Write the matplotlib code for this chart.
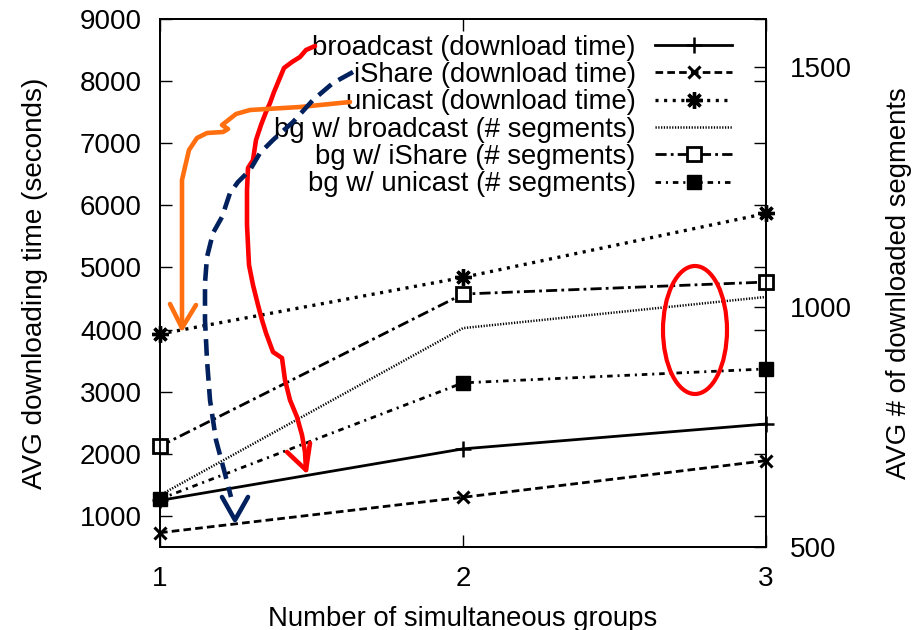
import matplotlib
matplotlib.use('Agg')
import matplotlib.pyplot as plt
from matplotlib.lines import Line2D
from matplotlib.patches import Ellipse

plt.rcParams['font.family'] = ['Liberation Sans', 'DejaVu Sans']
plt.rcParams['lines.scale_dashes'] = False

groups = [1, 2, 3]
# avg download time in seconds (left axis)
broadcast_time = [1250, 2080, 2480]
ishare_time = [730, 1300, 1890]
unicast_time = [3930, 4840, 5870]
# avg downloaded segments of background users (right axis)
bg_broadcast_segs = [608, 956, 1021]
bg_ishare_segs = [710, 1027, 1052]
bg_unicast_segs = [600, 842, 871]

left_ticks = [1000, 2000, 3000, 4000, 5000, 6000, 7000, 8000, 9000]
right_ticks = [500, 1000, 1500]

W, H = 916, 630
fig = plt.figure(figsize=(W / 100, H / 100), dpi=100)
ax = fig.add_axes([160 / W, 1 - 547 / H, 606 / W, 528 / H])
ax2 = ax.twinx()

lw = 2.0
h1, = ax.plot(groups, broadcast_time, color='black', lw=lw, ls='-',
              marker='+', ms=11, mew=1.8, clip_on=False)
h2, = ax.plot(groups, ishare_time, color='black', lw=lw, ls=(0, (5.5, 3)),
              marker='x', ms=9, mew=2.2, clip_on=False)
h3, = ax.plot(groups, unicast_time, color='black', lw=2.4, ls=(0, (2.2, 4)),
              marker=(8, 2, 0), ms=12, mew=2.4, clip_on=False)
h4, = ax2.plot(groups, bg_broadcast_segs, color='black', lw=1.8, ls=(0, (0.9, 1.1)),
               clip_on=False)
h5, = ax2.plot(groups, bg_ishare_segs, color='black', lw=lw, ls=(0, (8, 3, 2, 3)),
               marker='s', ms=10, mew=2, mfc='white', clip_on=False)
h6, = ax2.plot(groups, bg_unicast_segs, color='black', lw=lw, ls=(0, (4, 3.5, 1.5, 3.5)),
               marker='s', ms=10, mew=1, mfc='black', clip_on=False)

ax.set_xlim(1, 3)
ax.set_ylim(500, 9000)
ax2.set_ylim(500, 1600)
ax.set_xticks(groups)
ax.set_yticks(left_ticks)
ax2.set_yticks(right_ticks)

ax.tick_params(direction='in', length=8.5, width=1, labelsize=20, pad=13,
               top=True, right=True)
ax.tick_params(axis='x', pad=14)
ax2.tick_params(direction='in', length=8.5, width=1, labelsize=20, pad=17)
for a in (ax, ax2):
    for s in a.spines.values():
        s.set_linewidth(1.3)

ax.set_xlabel('Number of simultaneous groups', fontsize=19.8, labelpad=9.5)
ax.set_ylabel('AVG downloading time (seconds)', fontsize=20.1, labelpad=23)
ax2.set_ylabel('AVG # of downloaded segments', fontsize=19.8, labelpad=25)

labels = ['broadcast (download time)', 'iShare (download time)',
          'unicast (download time)', 'bg w/ broadcast (# segments)',
          'bg w/ iShare (# segments)', 'bg w/ unicast (# segments)']
leg = ax2.legend([h1, h2, h3, h4, h5, h6], labels, loc='upper right',
                 bbox_to_anchor=(0.944, 0.9705), bbox_transform=ax.transAxes,
                 frameon=False, markerfirst=False, numpoints=1,
                 handlelength=2.8, handletextpad=0.7, labelspacing=0.05,
                 borderpad=0, borderaxespad=0, fontsize=19.8)


# hand drawn marks on top, in pixel coords of the picture
def stroke(pts, color, **kw):
    xs = [p[0] / W for p in pts]
    ys = [1 - p[1] / H for p in pts]
    fig.add_artist(Line2D(xs, ys, color=color, lw=3.3, solid_capstyle='round',
                          solid_joinstyle='round', **kw))


red = '#ff0000'
orange = '#ff6f0f'
navy = '#00205e'

red_path = [(315, 46), (306, 50), (300, 57), (292, 62), (284, 68), (279, 80),
            (274, 92), (270, 103), (266, 112), (261, 125), (256, 140),
            (253, 160), (248, 168), (247, 190), (247, 225), (249, 265),
            (253, 285), (258, 305), (262, 320), (266, 333), (273, 352),
            (282, 358), (285, 380), (290, 400), (297, 417), (302, 435),
            (305, 452), (306, 470)]
stroke(red_path, red)
stroke([(287, 452), (306, 470), (310, 443)], red)

orange_path = [(350, 102), (300, 107), (250, 110), (236, 114), (222, 125),
               (228, 129), (223, 132), (207, 133), (197, 138), (189, 150),
               (185, 167), (182, 180), (182, 240), (182, 328)]
stroke(orange_path, orange)
stroke([(170, 304), (182, 328), (196, 305)], orange)

navy_path = [(353, 72), (333, 83), (313, 100), (293, 122), (273, 140),
             (260, 153), (250, 170), (238, 182), (230, 193), (222, 217),
             (213, 233), (207, 257), (205, 283), (205, 320), (207, 360),
             (210, 400), (216, 440), (224, 470), (231, 497)]
stroke(navy_path, navy, dashes=(12, 6), dash_capstyle='butt')
stroke([(222, 497), (235, 520), (248, 497)], navy)

fig.add_artist(Ellipse((695 / W, 1 - 330 / H), 64 / W, 128 / H,
                       transform=fig.transFigure, fill=False,
                       edgecolor=red, lw=3.0))

fig.savefig('out.png', dpi=100)
